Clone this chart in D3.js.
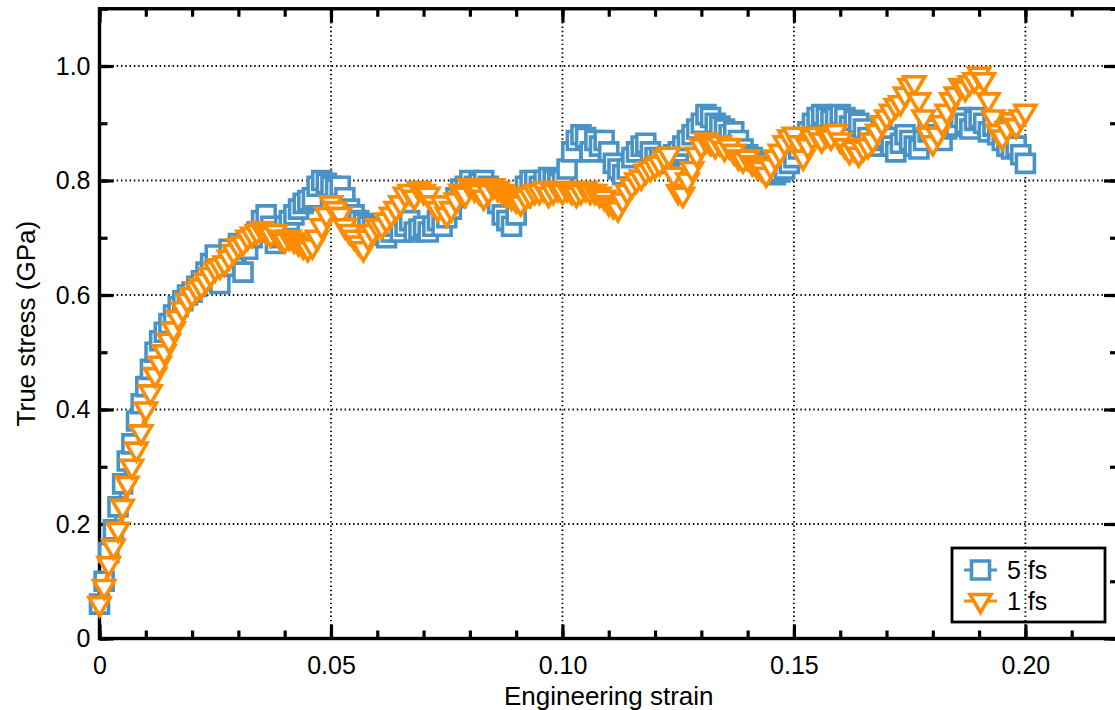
<!DOCTYPE html>
<html>
<head>
<meta charset="utf-8">
<script src="https://cdn.jsdelivr.net/npm/d3@7"></script>
<style>
  html, body { margin: 0; padding: 0; background: #fff; }
  svg { display: block; font-family: "Liberation Sans", Arial, Helvetica, sans-serif; }
</style>
</head>
<body>
<svg id="chart" width="1115" height="710"></svg>
<script>
// ---- data ----
const strainStep = 0.001; // engineering strain spacing between samples
const stress5fs = [
  0.06,0.10,0.15,0.19,0.23,0.27,0.31,0.34,0.38,0.41,
  0.44,0.47,0.50,0.52,0.535,0.55,0.565,0.58,0.59,0.60,
  0.605,0.615,0.625,0.64,0.655,0.67,0.62,0.65,0.68,0.67,
  0.69,0.64,0.68,0.70,0.71,0.73,0.74,0.72,0.69,0.70,
  0.72,0.73,0.74,0.75,0.76,0.765,0.77,0.79,0.80,0.795,
  0.79,0.785,0.79,0.77,0.75,0.74,0.73,0.725,0.72,0.715,
  0.71,0.705,0.70,0.71,0.72,0.71,0.72,0.73,0.71,0.715,
  0.72,0.71,0.72,0.73,0.72,0.735,0.75,0.77,0.785,0.79,
  0.80,0.79,0.795,0.80,0.79,0.78,0.76,0.74,0.73,0.72,
  0.74,0.77,0.79,0.80,0.80,0.79,0.80,0.805,0.80,0.795,
  0.80,0.82,0.85,0.87,0.88,0.875,0.85,0.87,0.86,0.87,
  0.85,0.83,0.82,0.81,0.82,0.84,0.85,0.86,0.865,0.85,
  0.84,0.835,0.83,0.84,0.845,0.85,0.86,0.87,0.88,0.89,
  0.90,0.915,0.91,0.90,0.895,0.89,0.88,0.885,0.87,0.855,
  0.845,0.84,0.835,0.83,0.825,0.82,0.81,0.815,0.82,0.83,
  0.84,0.855,0.87,0.885,0.90,0.91,0.915,0.91,0.905,0.91,
  0.915,0.91,0.895,0.905,0.90,0.89,0.875,0.86,0.87,0.88,
  0.875,0.86,0.85,0.865,0.88,0.87,0.86,0.855,0.87,0.885,
  0.89,0.88,0.87,0.89,0.90,0.895,0.91,0.90,0.89,0.905,
  0.91,0.90,0.885,0.895,0.88,0.87,0.86,0.855,0.86,0.845,
  0.83
];
const stress1fs = [
  0.06,0.09,0.13,0.16,0.19,0.23,0.27,0.30,0.33,0.36,
  0.40,0.43,0.46,0.48,0.50,0.52,0.54,0.56,0.575,0.59,
  0.60,0.61,0.615,0.625,0.635,0.645,0.65,0.655,0.665,0.675,
  0.685,0.69,0.70,0.705,0.71,0.715,0.71,0.705,0.71,0.70,
  0.695,0.70,0.695,0.69,0.685,0.68,0.685,0.70,0.72,0.74,
  0.76,0.75,0.74,0.72,0.71,0.70,0.69,0.68,0.70,0.71,
  0.72,0.72,0.73,0.74,0.75,0.76,0.775,0.78,0.77,0.785,
  0.78,0.775,0.76,0.75,0.76,0.74,0.75,0.765,0.78,0.775,
  0.79,0.785,0.78,0.77,0.78,0.79,0.785,0.78,0.775,0.77,
  0.765,0.76,0.77,0.775,0.78,0.78,0.785,0.775,0.78,0.785,
  0.78,0.785,0.78,0.775,0.78,0.785,0.78,0.78,0.775,0.77,
  0.76,0.755,0.75,0.765,0.78,0.79,0.80,0.805,0.815,0.82,
  0.825,0.83,0.84,0.845,0.81,0.78,0.775,0.80,0.82,0.845,
  0.86,0.87,0.865,0.86,0.865,0.855,0.86,0.85,0.84,0.835,
  0.84,0.83,0.825,0.82,0.81,0.825,0.84,0.85,0.865,0.875,
  0.88,0.865,0.84,0.86,0.875,0.88,0.87,0.88,0.875,0.885,
  0.87,0.86,0.85,0.855,0.845,0.855,0.86,0.87,0.885,0.90,
  0.91,0.92,0.93,0.935,0.95,0.965,0.97,0.94,0.91,0.88,
  0.865,0.88,0.90,0.92,0.94,0.95,0.965,0.96,0.97,0.975,
  0.985,0.975,0.94,0.91,0.885,0.875,0.89,0.905,0.895,0.91,
  0.92
];
const seriesNames = ["5 fs", "1 fs"];
const seriesColors = ["#4a93c6", "#ff8c00"];
const xTickValues = [0, 0.05, 0.10, 0.15, 0.20];
const xTickLabels = ["0", "0.05", "0.10", "0.15", "0.20"];
const yTickValues = [0, 0.2, 0.4, 0.6, 0.8, 1.0];
const yTickLabels = ["0", "0.2", "0.4", "0.6", "0.8", "1.0"];
const xMinorValues = d3.range(0, 0.2201, 0.01);
const yMinorValues = d3.range(0, 1.1001, 0.1);
const xTitle = "Engineering strain";
const yTitle = "True stress (GPa)";

// ---- layout ----
const svg = d3.select("#chart");
const plot = { left: 99.5, right: 1118, top: 8.75, bottom: 638.5 };
const x = d3.scaleLinear().domain([0, 0.22]).range([plot.left, plot.right]);
const y = d3.scaleLinear().domain([0, 1.1]).range([plot.bottom, plot.top]);

const major = 14, minor = 8;

// grid (dotted)
const grid = svg.append("g").attr("stroke", "#000").attr("stroke-width", 1.8)
  .attr("stroke-dasharray", "1.4,2.9").attr("fill", "none");
xTickValues.filter(v => v > 0).forEach(v => {
  grid.append("line").attr("x1", x(v)).attr("x2", x(v))
    .attr("y1", plot.bottom).attr("y2", plot.top);
});
yTickValues.filter(v => v > 0).forEach(v => {
  grid.append("line").attr("x1", plot.left).attr("x2", plot.right)
    .attr("y1", y(v)).attr("y2", y(v));
});

// axes with inward ticks
function addAxis(axisGen, transform, tickVals, len, labels) {
  const g = svg.append("g").attr("transform", transform)
    .call(axisGen.tickValues(tickVals).tickSizeInner(-len).tickSizeOuter(0)
      .tickFormat(labels ? (d, i) => labels[i] : () => ""));
  g.select(".domain").remove();
  g.selectAll(".tick line").attr("stroke", "#000").attr("stroke-width", 3.2);
  g.selectAll(".tick text").attr("fill", "#000").attr("font-size", 25)
    .attr("font-family", '"Liberation Sans", Arial, sans-serif');
  return g;
}
// minor ticks
addAxis(d3.axisBottom(x), `translate(0,${plot.bottom})`, xMinorValues, minor, null);
addAxis(d3.axisTop(x), `translate(0,${plot.top})`, xMinorValues, minor, null);
addAxis(d3.axisLeft(y), `translate(${plot.left},0)`, yMinorValues, minor, null);
addAxis(d3.axisRight(y), `translate(${plot.right},0)`, yMinorValues, minor, null);
// major ticks
const gx = addAxis(d3.axisBottom(x), `translate(0,${plot.bottom})`, xTickValues, major, xTickLabels);
gx.selectAll(".tick text").attr("y", 18).attr("dy", "0.71em");
addAxis(d3.axisTop(x), `translate(0,${plot.top})`, xTickValues, major, null);
const gy = addAxis(d3.axisLeft(y), `translate(${plot.left},0)`, yTickValues, major, yTickLabels);
gy.selectAll(".tick text").attr("x", -9);
addAxis(d3.axisRight(y), `translate(${plot.right},0)`, yTickValues, major, null);

// frame
svg.append("rect").attr("x", plot.left).attr("y", plot.top)
  .attr("width", plot.right - plot.left).attr("height", plot.bottom - plot.top)
  .attr("fill", "none").attr("stroke", "#000").attr("stroke-width", 3.4);

// symbols
const squarePath = d3.symbol().type(d3.symbolSquare).size(18 * 18)();
const trianglePath = "M-10.5,-6.5L10.5,-6.5L0,11.5Z";
const symbolPaths = [squarePath, trianglePath];

const allSeries = [stress5fs, stress1fs];
const line = d3.line().x((d, i) => x(i * strainStep)).y(d => y(d));
allSeries.forEach((vals, s) => {
  const g = svg.append("g");
  g.append("path").datum(vals).attr("d", line).attr("fill", "none")
    .attr("stroke", seriesColors[s]).attr("stroke-width", 3);
  g.selectAll("path.m").data(vals).join("path").attr("class", "m")
    .attr("d", symbolPaths[s])
    .attr("transform", (d, i) => `translate(${x(i * strainStep)},${y(d)})`)
    .attr("fill", "#fff").attr("stroke", seriesColors[s]).attr("stroke-width", 3.6)
    .attr("stroke-linejoin", "miter");
});

// legend
const leg = svg.append("g");
leg.append("rect").attr("x", 952).attr("y", 548).attr("width", 153).attr("height", 74)
  .attr("fill", "none").attr("stroke", "#000").attr("stroke-width", 2.8);
seriesNames.forEach((name, s) => {
  const cy = 570 + s * 31;
  leg.append("line").attr("x1", 964).attr("x2", 997).attr("y1", cy).attr("y2", cy)
    .attr("stroke", seriesColors[s]).attr("stroke-width", 3);
  leg.append("path").attr("d", symbolPaths[s]).attr("transform", `translate(980.5,${cy})`)
    .attr("fill", "#fff").attr("stroke", seriesColors[s]).attr("stroke-width", 3.6);
  leg.append("text").attr("x", 1007).attr("y", cy + 9).attr("font-size", 25)
    .attr("fill", "#000").text(name);
});

// axis titles
svg.append("text").attr("x", (plot.left + plot.right) / 2).attr("y", 705)
  .attr("text-anchor", "middle").attr("font-size", 26).attr("fill", "#000").text(xTitle);
svg.append("text").attr("transform", `translate(35,${(plot.top + plot.bottom) / 2}) rotate(-90)`)
  .attr("text-anchor", "middle").attr("font-size", 26).attr("fill", "#000").text(yTitle);
</script>
</body>
</html>
